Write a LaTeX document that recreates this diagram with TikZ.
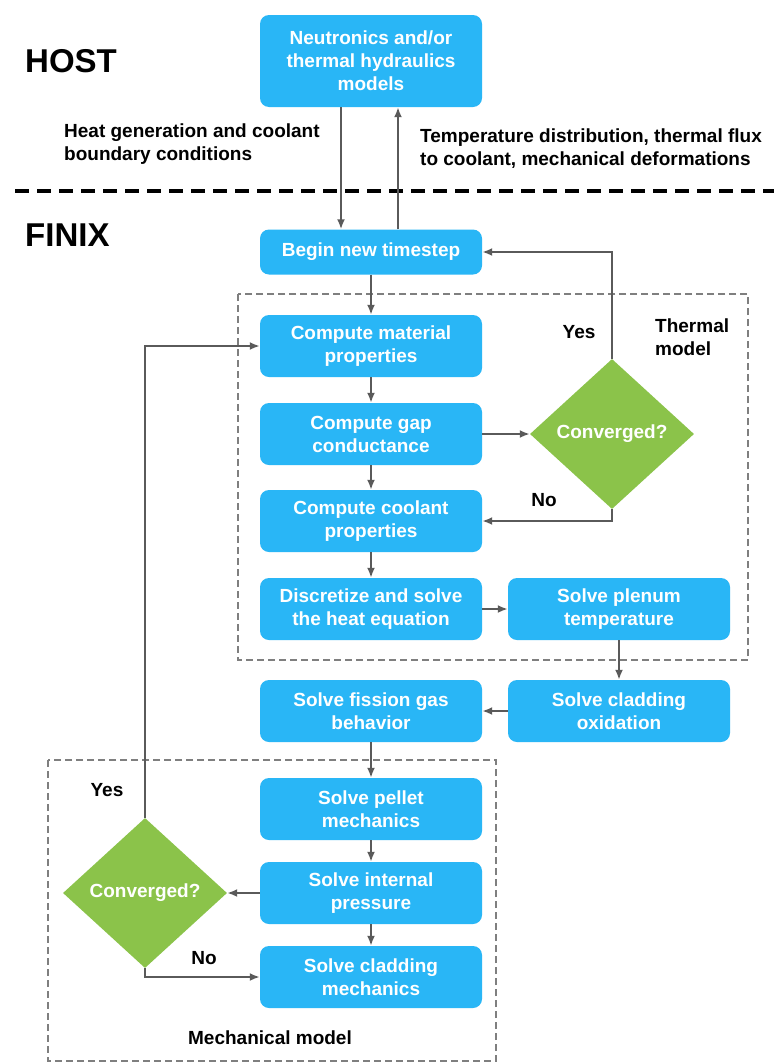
\documentclass[tikz,border=0pt]{standalone}
\usepackage{fontspec}
\setmainfont{Liberation Sans}
\usetikzlibrary{shapes.geometric,arrows.meta}
\definecolor{boxblue}{HTML}{29B6F6}
\definecolor{dgreen}{HTML}{8BC34A}
\definecolor{arrgray}{HTML}{5A5A5A}
\definecolor{dashgray}{HTML}{7F7F7F}
\begin{document}
\begin{tikzpicture}[x=1pt,y=-1pt,
  box/.style={fill=boxblue, rounded corners=9pt, minimum width=222pt, minimum height=62pt,
    text=white, font=\fontsize{19}{23}\selectfont\bfseries, align=center, inner sep=0pt},
  dia/.style={diamond, fill=dgreen, minimum width=164pt, minimum height=150pt, inner sep=0pt,
    text=white, font=\fontsize{19}{23}\selectfont\bfseries},
  arr/.style={draw=arrgray, line width=2.2pt, -{Latex[length=10pt,width=8pt]}},
  lbl/.style={font=\fontsize{19}{23}\selectfont\bfseries, text=black, inner sep=0pt},
  title/.style={font=\fontsize{33}{38}\selectfont\bfseries, text=black, inner sep=0pt, anchor=west},
  region/.style={draw=dashgray, line width=1.5pt, dash pattern=on 7pt off 4pt}
]
\useasboundingbox[fill=white] (0,0) rectangle (774,1063);

% titles and separator
\node[title] (host) at (25,61) {HOST};
\node[title] (finix) at (25,235) {FINIX};
\draw[black, line width=3.5pt, dash pattern=on 14pt off 8pt] (15,191) -- (774,191);

% regions
\draw[region] (238,294) rectangle (748,660);
\draw[region] (48,760) rectangle (496,1061);

% boxes
\node[box, minimum height=92pt] (neut) at (371,61) {Neutronics and/or\\thermal hydraulics\\models};
\node[box, minimum height=45pt] (begin) at (371,252) {Begin new timestep};
\node[box] (mat)  at (371,346) {Compute material\\properties};
\node[box] (gap)  at (371,434) {Compute gap\\conductance};
\node[box] (cool) at (371,521) {Compute coolant\\properties};
\node[box] (disc) at (371,609) {Discretize and solve\\the heat equation};
\node[box] (plen) at (619,609) {Solve plenum\\temperature};
\node[box] (oxid) at (619,711) {Solve cladding\\oxidation};
\node[box] (fiss) at (371,711) {Solve fission gas\\behavior};
\node[box] (pel)  at (371,809) {Solve pellet\\mechanics};
\node[box] (int)  at (371,893) {Solve internal\\pressure};
\node[box] (clad) at (371,977) {Solve cladding\\mechanics};

\node[dia] (dt) at (612,434) {Converged?};
\node[dia] (dm) at (145,893) {Converged?};

% labels
\node[lbl, anchor=west, align=left] (lheat) at (64,144) {Heat generation and coolant\\boundary conditions};
\node[lbl, anchor=west, align=left] (ltemp) at (420,149) {Temperature distribution, thermal flux\\to coolant, mechanical deformations};
\node[lbl] (ly1) at (579,332) {Yes};
\node[lbl] (ln1) at (544,500) {No};
\node[lbl, anchor=west, align=left] (lth) at (655,337) {Thermal\\model};
\node[lbl] (ly2) at (107,790) {Yes};
\node[lbl] (ln2) at (204,958) {No};
\node[lbl] (lmech) at (270,1038) {Mechanical model};

% connectors
\draw[arr] ([xshift=-30pt]neut.south) -- ([xshift=-30pt]begin.north);
\draw[arr] ([xshift=27pt]begin.north) -- ([xshift=27pt]neut.south);
\draw[arr] (begin) -- (mat);
\draw[arr] (mat) -- (gap);
\draw[arr] (gap) -- (cool);
\draw[arr] (cool) -- (disc);
\draw[arr] (gap.east) -- (dt.west);
\draw[arr] (dt.north) |- (begin.east);
\draw[arr] (dt.south) |- (cool.east);
\draw[arr] (disc) -- (plen);
\draw[arr] (plen) -- (oxid);
\draw[arr] (oxid) -- (fiss);
\draw[arr] (fiss) -- (pel);
\draw[arr] (pel) -- (int);
\draw[arr] (int) -- (clad);
\draw[arr] (int.west) -- (dm.east);
\draw[arr] (dm.north) |- (mat.west);
\draw[arr] (dm.south) |- (clad.west);
\end{tikzpicture}
\end{document}
